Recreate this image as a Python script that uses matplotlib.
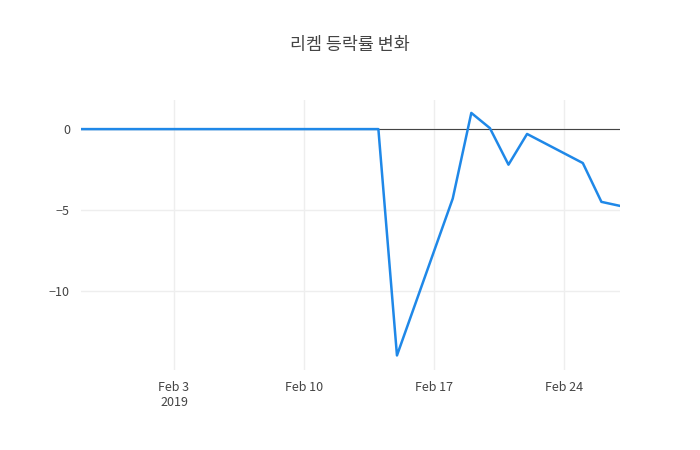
import matplotlib.pyplot as plt
import matplotlib.dates as mdates
import pandas as pd

plt.rcParams['font.family'] = ['Noto Sans CJK KR', 'DejaVu Sans']

# 리켐 daily change (%)
dates = pd.to_datetime([
    "2019-01-29", "2019-01-30", "2019-01-31", "2019-02-01",
    "2019-02-07", "2019-02-08", "2019-02-11", "2019-02-12", "2019-02-13", "2019-02-14",
    "2019-02-15", "2019-02-18", "2019-02-19", "2019-02-20", "2019-02-21", "2019-02-22",
    "2019-02-25", "2019-02-26", "2019-02-27",
])
changes = [0, 0, 0, 0, 0, 0, 0, 0, 0, 0,
           -14.0, -4.3, 1.0, 0.06, -2.2, -0.3, -2.1, -4.5, -4.75]

fig = plt.figure(figsize=(7, 4.5), dpi=100)
ax = fig.add_axes([81/700, 80/450, 539/700, 270/450])
ax.plot(dates, changes, color='#1f88e8', linewidth=1.8, zorder=3)
ax.axhline(0, color='#444444', linewidth=0.8, zorder=2)

ax.set_xlim(pd.Timestamp("2019-01-29"), pd.Timestamp("2019-02-27"))
ax.set_ylim(-14.9, 1.8)
ax.set_yticks([0, -5, -10])
ax.set_yticklabels(['0', '−5', '−10'])
ticks = pd.to_datetime(["2019-02-03", "2019-02-10", "2019-02-17", "2019-02-24"])
ax.set_xticks(ticks)
ax.set_xticklabels(["Feb 3\n2019", "Feb 10", "Feb 17", "Feb 24"])
ax.grid(True, color='#eeeeee', linewidth=1)
for s in ax.spines.values():
    s.set_visible(False)
ax.tick_params(length=0, labelsize=9, colors='#444444', pad=8)

fig.suptitle("리켐 등락률 변화", x=0.5, y=1 - 45/450, va='center', fontsize=12.5, color='#444444')
fig.savefig("out.png", dpi=100)
